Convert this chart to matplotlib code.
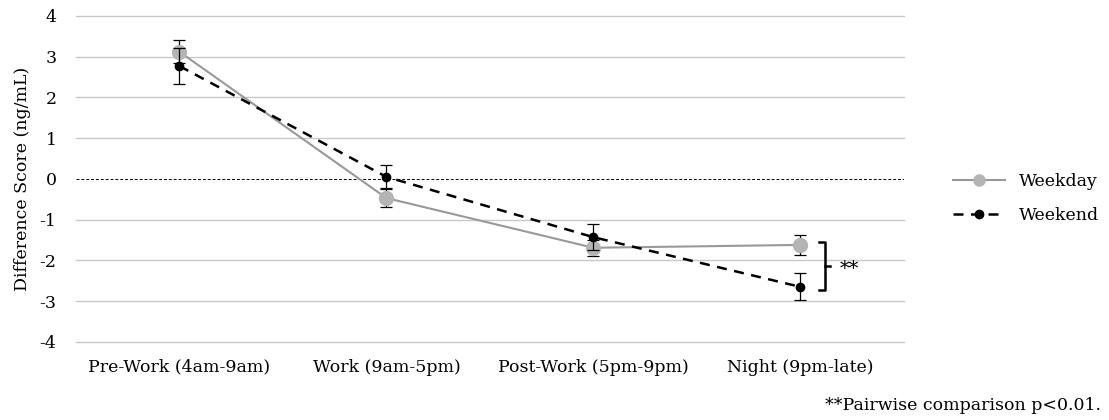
import numpy as np
import matplotlib
matplotlib.use('Agg')
import matplotlib.pyplot as plt
from matplotlib.lines import Line2D

plt.rcParams['font.family'] = ['DejaVu Serif']
plt.rcParams['axes.unicode_minus'] = False

periods = ['Pre-Work (4am-9am)', 'Work (9am-5pm)', 'Post-Work (5pm-9pm)', 'Night (9pm-late)']
weekday = [3.12, -0.47, -1.69, -1.62]
weekday_err = [0.28, 0.22, 0.2, 0.25]
weekend = [2.77, 0.05, -1.43, -2.65]
weekend_err = [0.45, 0.28, 0.32, 0.33]

x = np.arange(len(periods))

fig = plt.figure(figsize=(11.09, 4.2), dpi=100)
ax = fig.add_axes([0.0685, 0.186, 0.7465, 0.776])

for yy in range(-4, 5):
    if yy != 0:
        ax.axhline(yy, color='#c8c8c8', lw=1.0, zorder=0, clip_on=False)
ax.axhline(0, color='black', lw=0.7, ls=(0, (3, 2)), zorder=1)

ax.errorbar(x, weekday, yerr=weekday_err, color='#999999', lw=1.5, marker='o',
            ms=10, mfc='#b4b4b4', mec='#b4b4b4', ecolor='black', elinewidth=0.9,
            capsize=4, capthick=0.9, zorder=3)
ax.errorbar(x, weekend, yerr=weekend_err, color='black', lw=1.8, ls=(0, (4, 3)),
            marker='o', ms=6, mfc='black', mec='black', ecolor='black',
            elinewidth=0.9, capsize=4, capthick=0.9, zorder=4)

ax.set_xlim(-0.5, 3.5)
ax.set_ylim(-4, 4)
ax.set_yticks(range(-4, 5))
ax.set_xticks(x)
ax.set_xticklabels(periods, fontsize=12.5)
ax.tick_params(axis='y', labelsize=12.5, length=0, pad=14)
ax.tick_params(axis='x', length=0, pad=12)
for s in ax.spines.values():
    s.set_visible(False)
ax.set_ylabel('Difference Score (ng/mL)', fontsize=12.5, labelpad=6)

# significance bracket
bx = 3.09
ax.plot([bx, bx + 0.03, bx + 0.03, bx], [-1.55, -1.55, -2.72, -2.72], color='black',
        lw=1.8, clip_on=False)
ax.plot([bx + 0.03, bx + 0.055], [-2.135, -2.135], color='black', lw=1.8, clip_on=False)
ax.text(bx + 0.1, -2.2, '**', fontsize=14, va='center', ha='left')

h1 = Line2D([], [], color='#999999', lw=1.5, marker='o', ms=8, mfc='#b4b4b4', mec='#b4b4b4')
h2 = Line2D([], [], color='black', lw=1.8, ls=(0, (4, 3)), marker='o', ms=6, mfc='black')
fig.legend(handles=[h1, h2], labels=['Weekday', 'Weekend'], loc='center left',
           bbox_to_anchor=(0.845, 0.527), frameon=False, fontsize=12.5,
           handlelength=3.0, labelspacing=0.95)

fig.text(0.993, 0.035, '**Pairwise comparison p<0.01.', ha='right', va='center', fontsize=12.5)

fig.savefig('out.png', dpi=100)
